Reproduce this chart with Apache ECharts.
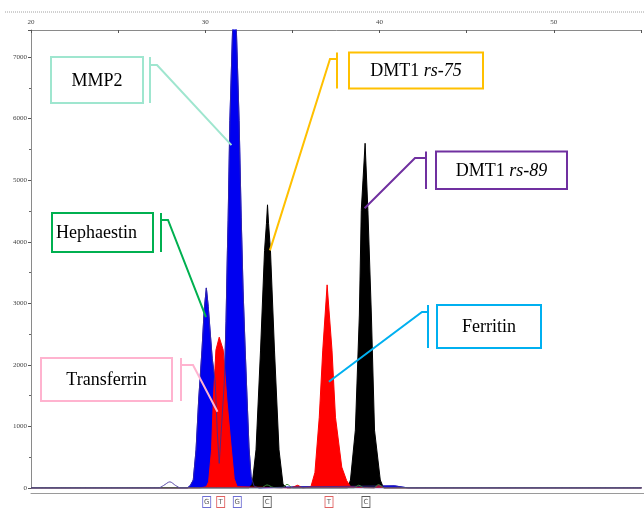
<!DOCTYPE html>
<html>
<head>
<meta charset="utf-8">
<script src="https://cdn.jsdelivr.net/npm/echarts@6/dist/echarts.min.js"></script>
<style>
  html, body { margin: 0; padding: 0; background: #fff; }
  #chart { width: 644px; height: 510px; }
</style>
</head>
<body>
<div id="chart"></div>
<script>
// Capillary electrophoresis trace (SNaPshot), one array per dye channel: [size, RFU]
const blueTrace = [
  [20.0, 0], [28.97, 0], [29.14, 40], [29.31, 130], [29.47, 620], [29.62, 1430], [29.81, 2240],
  [29.94, 2900], [30.06, 3250], [30.17, 2950], [30.29, 2500], [30.40, 2100], [30.57, 1720],
  [30.69, 900], [30.80, 400], [30.91, 900], [31.09, 1720], [31.19, 2700], [31.27, 3860],
  [31.31, 4350], [31.41, 5970], [31.56, 7390], [31.69, 7800], [31.79, 7390], [31.94, 5970],
  [32.06, 4400], [32.17, 3200], [32.29, 2240], [32.40, 1430], [32.51, 650], [32.63, 180],
  [32.80, 30], [33.09, 0], [35.37, 20], [37.66, 25], [40.86, 35], [41.66, 0], [55.03, 0]
];
const redTrace = [
  [20.0, 0], [29.66, 0], [30.06, 20], [30.19, 100], [30.36, 620], [30.46, 1430],
  [30.61, 2240], [30.80, 2450], [31.03, 2240], [31.24, 1430], [31.50, 620], [31.66, 150],
  [31.83, 20], [34.9, 0], [35.3, 45], [35.6, 0], [36.06, 20], [36.29, 250], [36.54, 1150],
  [36.74, 2240], [36.99, 3300], [37.27, 2240], [37.47, 1150], [37.83, 340], [38.11, 120],
  [38.34, 20], [39.7, 0], [39.94, 45], [40.3, 0], [55.03, 0]
];
const blackTrace = [
  [20.0, 0], [32.51, 0], [32.69, 60], [32.91, 620], [33.17, 2240], [33.40, 3860],
  [33.51, 4300], [33.57, 4600], [33.63, 4300], [33.74, 3860], [33.97, 2240], [34.23, 620],
  [34.46, 60], [34.69, 0], [38.17, 0], [38.33, 130], [38.61, 940], [38.84, 2810],
  [38.95, 4510], [39.17, 5600], [39.33, 4510], [39.53, 2810], [39.71, 940], [40.04, 130],
  [40.23, 0], [55.03, 0]
];
const greenTrace = [
  [20.0, 0], [33.2, 0], [33.54, 50], [33.89, 10], [34.40, 0], [34.69, 60], [35.03, 0],
  [38.51, 0], [38.80, 45], [39.14, 0], [39.66, 0], [39.94, 55], [40.29, 0], [55.03, 0]
];
// Unfilled low trace with a small bump before the first peak
const purpleTrace = [
  [20.0, 0], [27.3, 0], [27.6, 40], [27.97, 100], [28.3, 40], [28.6, 0], [55.03, 0]
];

// Allele calls shown under the peaks
const alleleSize = [30.04, 30.84, 31.79, 33.50, 37.03, 39.14];
const alleleBase = ['G', 'T', 'G', 'C', 'T', 'C'];
const alleleColor = ['#4a4ac8', '#d83a3a', '#4a4ac8', '#333333', '#d83a3a', '#333333'];

// Marker names and the point on each peak that the leader line touches
const markerNames = ['MMP2', 'DMT1 rs-75', 'DMT1 rs-89', 'Hephaestin', 'Transferrin', 'Ferritin'];
const markerTarget = [[31.50, 5570], [33.71, 3860], [39.14, 4545], [30.04, 2776], [30.70, 1239], [37.09, 1726]];

const sizeMin = 20, sizeMax = 55.03;
const rfuMax = 7440;

const chart = echarts.init(document.getElementById('chart'));
const serif = "'Liberation Serif', 'Times New Roman', serif";

function traceSeries(name, data, color, z, filled, extra) {
  const s = {
    name, type: 'line', xAxisIndex: 0, yAxisIndex: 0, data,
    symbol: 'none', smooth: false, z,
    lineStyle: { color, width: 1 }
  };
  if (filled) s.areaStyle = { color, opacity: 1 };
  return Object.assign(s, extra || {});
}

const option = {
  animation: false,
  backgroundColor: '#fff',
  grid: [
    { left: 31, right: 0, top: 30, height: 458 },
    { left: 31, right: 0, top: 493, height: 17 }
  ],
  xAxis: [
    {
      gridIndex: 0, type: 'value', position: 'top', min: sizeMin, max: sizeMax, interval: 5,
      axisLine: { show: true, onZero: false, lineStyle: { color: '#8a8a8a', width: 1 } },
      axisTick: { show: true, inside: true, length: 3, lineStyle: { color: '#555' } },
      axisLabel: {
        show: true, fontSize: 7, color: '#444', fontFamily: serif, margin: 4,
        showMaxLabel: false,
        formatter: v => (v % 10 === 0 ? String(v) : '')
      },
      splitLine: { show: false }
    },
    {
      gridIndex: 1, type: 'value', position: 'top', min: sizeMin, max: sizeMax,
      axisLine: { show: true, onZero: false, lineStyle: { color: '#9a9a9a', width: 1 } },
      axisTick: { show: false }, axisLabel: { show: false }, splitLine: { show: false }
    }
  ],
  yAxis: [
    {
      gridIndex: 0, type: 'value', min: 0, max: rfuMax, interval: 1000,
      axisLine: { show: true, onZero: false, lineStyle: { color: '#8a8a8a', width: 1 } },
      axisTick: { show: true, length: 3, lineStyle: { color: '#555' } },
      minorTick: { show: true, splitNumber: 2, length: 2, lineStyle: { color: '#666' } },
      axisLabel: { fontSize: 7, color: '#444', fontFamily: serif, margin: 4, showMaxLabel: false,
        formatter: v => (v % 1000 === 0 ? String(v) : '') },
      splitLine: { show: false }
    },
    { gridIndex: 1, type: 'value', min: 0, max: 1, show: false }
  ],
  series: [
    traceSeries('blue', blueTrace, '#0000f0', 2, true),
    traceSeries('black', blackTrace, '#000000', 3, true),
    traceSeries('red', redTrace, '#ff0000', 4, true),
    traceSeries('blue outline', blueTrace, '#3a2a9a', 5, false, { lineStyle: { color: '#3a2a9a', width: 1, opacity: 0.85 } }),
    traceSeries('green', greenTrace, '#3c8c3c', 6, false, { smooth: 0.3 }),
    traceSeries('purple', purpleTrace, '#5a4aa8', 6, false, { smooth: 0.3 }),
    {
      name: 'calls', type: 'scatter', xAxisIndex: 1, yAxisIndex: 1, z: 7,
      symbol: 'rect', symbolSize: [8, 11],
      data: alleleSize.map((s, i) => ({
        value: [s, 0.47],
        itemStyle: { color: '#fff', borderColor: alleleColor[i], borderWidth: 1 },
        label: { show: true, position: 'inside', formatter: alleleBase[i], fontSize: 7,
          color: '#333', fontFamily: "'DejaVu Sans', sans-serif" }
      }))
    }
  ]
};
chart.setOption(option);

// Callout boxes: box [x, y, w, h], bracket bar x, elbow point of the leader
const calloutLayout = [
  { box: [51, 57, 92, 46], bar: 150, elbow: [157, 65], color: '#9fe6cf', align: 'center' },
  { box: [349, 52.5, 134, 36], bar: 337, elbow: [330, 59], color: '#ffc000', align: 'center' },
  { box: [436, 151.5, 131, 37.5], bar: 426, elbow: [415, 158], color: '#7030a0', align: 'center' },
  { box: [52, 213, 101, 39], bar: 161, elbow: [168, 220], color: '#00b050', align: 'left' },
  { box: [41, 358, 131, 43], bar: 181, elbow: [193, 365], color: '#ffb3cf', align: 'center' },
  { box: [437, 305, 104, 43], bar: 428, elbow: [422, 312], color: '#00b0f0', align: 'center' }
];

function labelText(name) {
  const m = name.match(/^(DMT1) (rs-\d+)$/);
  return m ? '{n|' + m[1] + '} {i|' + m[2] + '}' : '{n|' + name + '}';
}

const graphics = [
  { type: 'line', silent: true, shape: { x1: 5, y1: 12, x2: 644, y2: 12 },
    style: { stroke: '#a0a0a0', lineWidth: 1, lineDash: [1, 1] } }
];

calloutLayout.forEach((c, i) => {
  const [bx, by, bw, bh] = c.box;
  const tip = chart.convertToPixel({ xAxisIndex: 0, yAxisIndex: 0 }, markerTarget[i]);
  graphics.push({
    type: 'rect', z: 100, shape: { x: bx, y: by, width: bw, height: bh },
    style: { fill: '#fff', stroke: c.color, lineWidth: 2 }
  });
  graphics.push({
    type: 'text', z: 101,
    style: {
      text: labelText(markerNames[i]),
      x: c.align === 'left' ? bx + 4 : bx + bw / 2,
      y: by + bh / 2 + 1,
      textAlign: c.align, textVerticalAlign: 'middle',
      fontFamily: serif, fontSize: 18, fill: '#000',
      rich: {
        n: { fontFamily: serif, fontSize: 18, color: '#000' },
        i: { fontFamily: serif, fontSize: 18, fontStyle: 'italic', color: '#000' }
      }
    }
  });
  graphics.push({
    type: 'line', z: 100, shape: { x1: c.bar, y1: by, x2: c.bar, y2: by + bh },
    style: { stroke: c.color, lineWidth: 2 }
  });
  graphics.push({
    type: 'polyline', z: 100,
    shape: { points: [[c.bar, c.elbow[1]], c.elbow, tip] },
    style: { stroke: c.color, lineWidth: 2, fill: null }
  });
});

chart.setOption({ graphic: graphics });
</script>
</body>
</html>
